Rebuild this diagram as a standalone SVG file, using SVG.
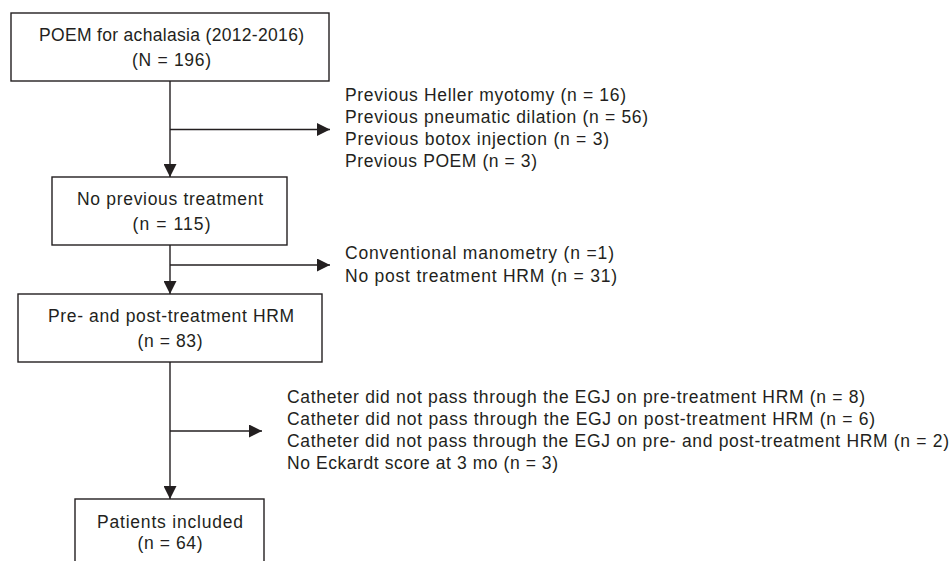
<svg xmlns="http://www.w3.org/2000/svg" width="950" height="561" viewBox="0 0 950 561">
  <style>
    .box { fill: #ffffff; stroke: #231f20; stroke-width: 1.4; }
    .conn { fill: none; stroke: #231f20; stroke-width: 1.4; }
    text { font-family: "Liberation Sans", Arial, sans-serif; font-size: 17.5px; fill: #231f20; }
    .c { text-anchor: middle; }
  </style>
  <defs>
    <marker id="arrow" markerUnits="userSpaceOnUse" markerWidth="13" markerHeight="13" refX="13" refY="6.5" orient="auto">
      <path d="M0,0 L13,6.5 L0,13 Z" fill="#231f20"/>
    </marker>
  </defs>
  <rect width="950" height="561" fill="#ffffff"/>

  <g id="connectors">
    <line class="conn" x1="170" y1="81" x2="170" y2="177" marker-end="url(#arrow)"/>
    <line class="conn" x1="170" y1="129.5" x2="330" y2="129.5" marker-end="url(#arrow)"/>
    <line class="conn" x1="170" y1="245" x2="170" y2="294" marker-end="url(#arrow)"/>
    <line class="conn" x1="170" y1="265" x2="330" y2="265" marker-end="url(#arrow)"/>
    <line class="conn" x1="170" y1="362" x2="170" y2="499" marker-end="url(#arrow)"/>
    <line class="conn" x1="170" y1="431" x2="262" y2="431" marker-end="url(#arrow)"/>
  </g>

  <g id="node-poem">
    <rect class="box" x="11" y="13" width="318" height="68"/>
    <text class="c" x="171.5" y="40.5" textLength="265">POEM for achalasia (2012-2016)</text>
    <text class="c" x="171.5" y="66" textLength="79">(N = 196)</text>
  </g>

  <g id="node-no-previous">
    <rect class="box" x="52" y="177" width="235" height="68"/>
    <text class="c" x="170" y="205" textLength="186">No previous treatment</text>
    <text class="c" x="171.5" y="229.5" textLength="78">(n = 115)</text>
  </g>

  <g id="node-pre-post">
    <rect class="box" x="18" y="294" width="304" height="68"/>
    <text class="c" x="171" y="322" textLength="246">Pre- and post-treatment HRM</text>
    <text class="c" x="170" y="347" textLength="65">(n = 83)</text>
  </g>

  <g id="node-included">
    <rect class="box" x="75" y="499" width="189" height="80"/>
    <text class="c" x="170" y="528" textLength="146">Patients included</text>
    <text class="c" x="170" y="549" textLength="65">(n = 64)</text>
  </g>

  <g id="exclusion-1">
    <text x="345" y="101" textLength="281">Previous Heller myotomy (n = 16)</text>
    <text x="345" y="123" textLength="303">Previous pneumatic dilation (n = 56)</text>
    <text x="345" y="145" textLength="264">Previous botox injection (n = 3)</text>
    <text x="345" y="167" textLength="192">Previous POEM (n = 3)</text>
  </g>

  <g id="exclusion-2">
    <text x="345" y="259" textLength="269">Conventional manometry (n =1)</text>
    <text x="345" y="282" textLength="272">No post treatment HRM (n = 31)</text>
  </g>

  <g id="exclusion-3">
    <text x="287" y="403" textLength="578">Catheter did not pass through the EGJ on pre-treatment HRM (n = 8)</text>
    <text x="287" y="425" textLength="588">Catheter did not pass through the EGJ on post-treatment HRM (n = 6)</text>
    <text x="287" y="447" textLength="662">Catheter did not pass through the EGJ on pre- and post-treatment HRM (n = 2)</text>
    <text x="287" y="469" textLength="271">No Eckardt score at 3 mo (n = 3)</text>
  </g>
</svg>
